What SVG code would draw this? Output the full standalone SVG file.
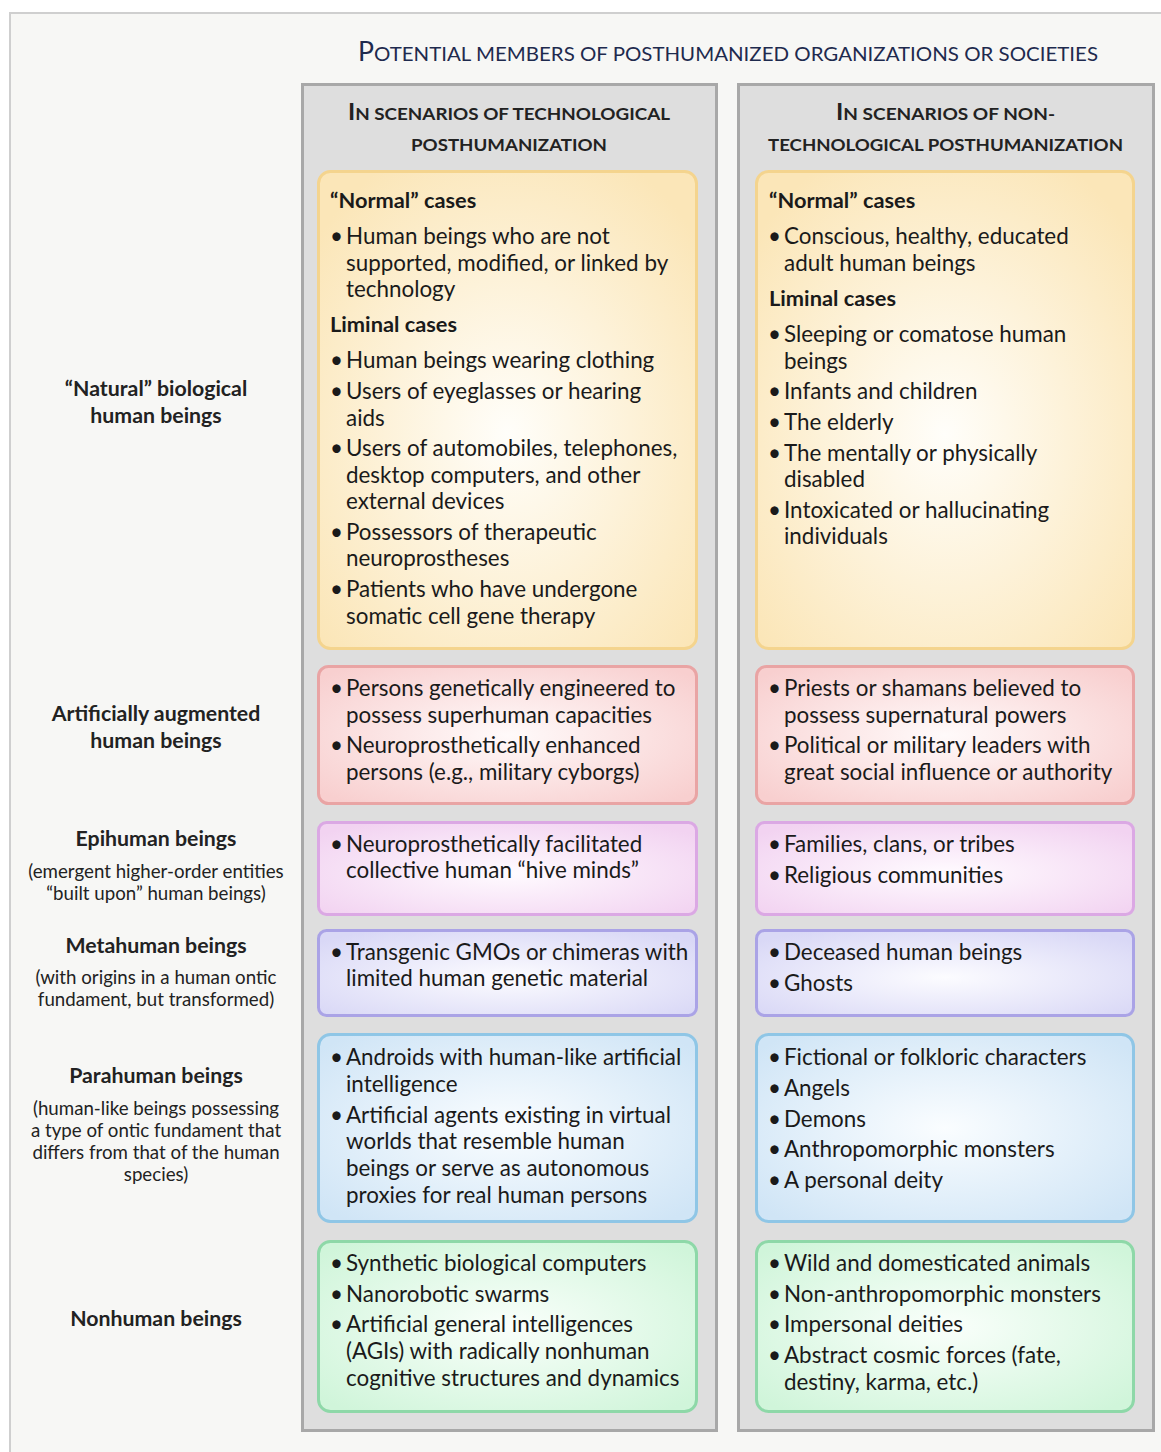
<svg xmlns="http://www.w3.org/2000/svg" width="1161" height="1452" viewBox="0 0 1161 1452">
<defs>
<radialGradient id="gY" cx="50%" cy="55%" r="65%"><stop offset="0" stop-color="#fffefa"/><stop offset="1" stop-color="#fbe6b8"/></radialGradient>
<radialGradient id="gR" cx="50%" cy="50%" r="65%"><stop offset="0" stop-color="#fffafa"/><stop offset="1" stop-color="#f8cfcf"/></radialGradient>
<radialGradient id="gP" cx="50%" cy="55%" r="65%"><stop offset="0" stop-color="#fffbff"/><stop offset="1" stop-color="#f2d3f1"/></radialGradient>
<radialGradient id="gL" cx="50%" cy="55%" r="65%"><stop offset="0" stop-color="#fcfcff"/><stop offset="1" stop-color="#d9d8f6"/></radialGradient>
<radialGradient id="gB" cx="50%" cy="50%" r="65%"><stop offset="0" stop-color="#fafdff"/><stop offset="1" stop-color="#d0e5f6"/></radialGradient>
<radialGradient id="gG" cx="50%" cy="50%" r="65%"><stop offset="0" stop-color="#fafffb"/><stop offset="1" stop-color="#d0f5da"/></radialGradient>
</defs>
<style>
.col{fill:#dedede;stroke:#a8a8a8;stroke-width:3}
.box{stroke-width:3}
.y{fill:url(#gY);stroke:#f4d48e}
.r{fill:url(#gR);stroke:#e9a4a4}
.p{fill:url(#gP);stroke:#dba8e4}
.l{fill:url(#gL);stroke:#aaa3e6}
.b{fill:url(#gB);stroke:#8fc6e6}
.g{fill:url(#gG);stroke:#8ed8a8}
text{font-family:Lato,"Liberation Sans",sans-serif}
.t{font-size:22.4px;fill:#1a1a1a}
.h{font-size:21.8px;font-weight:bold;fill:#1a1a1a}
.lab{font-size:21.3px;font-weight:bold;fill:#222;text-anchor:middle}
.sub{font-size:18.7px;fill:#222;text-anchor:middle}
.title{fill:#1e2a4e}
.ch{font-weight:bold;fill:#222}
</style>
<rect x="10" y="13" width="1160" height="1450" fill="#f7f7f5" stroke="#cfcfcf" stroke-width="2"/>
<text class="title" x="358" y="61" textLength="740" lengthAdjust="spacingAndGlyphs"><tspan font-size="26">P</tspan><tspan font-size="20">OTENTIAL MEMBERS OF POSTHUMANIZED ORGANIZATIONS OR SOCIETIES</tspan></text>

<g id="col-tech">
<rect class="col" x="302.5" y="84.5" width="414" height="1346"/>
<text class="ch" x="348" y="120" textLength="322" lengthAdjust="spacingAndGlyphs"><tspan font-size="22">I</tspan><tspan font-size="17">N SCENARIOS OF TECHNOLOGICAL</tspan></text>
<text class="ch" x="411" y="151" textLength="196" lengthAdjust="spacingAndGlyphs" font-size="17">POSTHUMANIZATION</text>
</g>
<g id="col-nontech">
<rect class="col" x="738.5" y="84.5" width="415" height="1346"/>
<text class="ch" x="836" y="120" textLength="219" lengthAdjust="spacingAndGlyphs"><tspan font-size="22">I</tspan><tspan font-size="17">N SCENARIOS OF NON-</tspan></text>
<text class="ch" x="768" y="151" textLength="355" lengthAdjust="spacingAndGlyphs" font-size="17">TECHNOLOGICAL POSTHUMANIZATION</text>
</g>

<g id="label-natural"><text class="lab"><tspan x="156" y="396">“Natural” biological</tspan><tspan x="156" y="423">human beings</tspan></text></g>
<g id="label-augmented"><text class="lab"><tspan x="156" y="721">Artificially augmented</tspan><tspan x="156" y="748">human beings</tspan></text></g>
<g id="label-epihuman"><text class="lab" x="156" y="846">Epihuman beings</text><text class="sub"><tspan x="156" y="878">(emergent higher-order entities</tspan><tspan x="156" y="900">“built upon” human beings)</tspan></text></g>
<g id="label-metahuman"><text class="lab" x="156" y="953">Metahuman beings</text><text class="sub"><tspan x="156" y="984">(with origins in a human ontic</tspan><tspan x="156" y="1006">fundament, but transformed)</tspan></text></g>
<g id="label-parahuman"><text class="lab" x="156" y="1083">Parahuman beings</text><text class="sub"><tspan x="156" y="1115">(human-like beings possessing</tspan><tspan x="156" y="1137">a type of ontic fundament that</tspan><tspan x="156" y="1159">differs from that of the human</tspan><tspan x="156" y="1181">species)</tspan></text></g>
<g id="label-nonhuman"><text class="lab" x="156" y="1326">Nonhuman beings</text></g>

<g id="tech-natural">
<rect class="box y" x="318.5" y="171.5" width="378" height="477" rx="12"/>
<text class="h" x="330" y="208">“Normal” cases</text>
<text class="t"><tspan x="330" y="244">•</tspan><tspan x="346" y="244">Human beings who are not</tspan><tspan x="346" y="271">supported, modified, or linked by</tspan><tspan x="346" y="297">technology</tspan></text>
<text class="h" x="330" y="332">Liminal cases</text>
<text class="t"><tspan x="330" y="368">•</tspan><tspan x="346" y="368">Human beings wearing clothing</tspan>
<tspan x="330" y="399">•</tspan><tspan x="346" y="399">Users of eyeglasses or hearing</tspan><tspan x="346" y="426">aids</tspan>
<tspan x="330" y="456">•</tspan><tspan x="346" y="456">Users of automobiles, telephones,</tspan><tspan x="346" y="483">desktop computers, and other</tspan><tspan x="346" y="509">external devices</tspan>
<tspan x="330" y="540">•</tspan><tspan x="346" y="540">Possessors of therapeutic</tspan><tspan x="346" y="566">neuroprostheses</tspan>
<tspan x="330" y="597">•</tspan><tspan x="346" y="597">Patients who have undergone</tspan><tspan x="346" y="624">somatic cell gene therapy</tspan></text>
</g>
<g id="nontech-natural">
<rect class="box y" x="756.5" y="171.5" width="377" height="477" rx="12"/>
<text class="h" x="769" y="208">“Normal” cases</text>
<text class="t"><tspan x="768" y="244">•</tspan><tspan x="784" y="244">Conscious, healthy, educated</tspan><tspan x="784" y="271">adult human beings</tspan></text>
<text class="h" x="769" y="306">Liminal cases</text>
<text class="t"><tspan x="768" y="342">•</tspan><tspan x="784" y="342">Sleeping or comatose human</tspan><tspan x="784" y="369">beings</tspan>
<tspan x="768" y="399">•</tspan><tspan x="784" y="399">Infants and children</tspan>
<tspan x="768" y="430">•</tspan><tspan x="784" y="430">The elderly</tspan>
<tspan x="768" y="461">•</tspan><tspan x="784" y="461">The mentally or physically</tspan><tspan x="784" y="487">disabled</tspan>
<tspan x="768" y="518">•</tspan><tspan x="784" y="518">Intoxicated or hallucinating</tspan><tspan x="784" y="544">individuals</tspan></text>
</g>

<g id="tech-augmented">
<rect class="box r" x="318.5" y="666.5" width="378" height="137" rx="10"/>
<text class="t"><tspan x="330" y="696">•</tspan><tspan x="346" y="696">Persons genetically engineered to</tspan><tspan x="346" y="723">possess superhuman capacities</tspan>
<tspan x="330" y="753">•</tspan><tspan x="346" y="753">Neuroprosthetically enhanced</tspan><tspan x="346" y="780">persons (e.g., military cyborgs)</tspan></text>
</g>
<g id="nontech-augmented">
<rect class="box r" x="756.5" y="666.5" width="377" height="137" rx="10"/>
<text class="t"><tspan x="768" y="696">•</tspan><tspan x="784" y="696">Priests or shamans believed to</tspan><tspan x="784" y="723">possess supernatural powers</tspan>
<tspan x="768" y="753">•</tspan><tspan x="784" y="753">Political or military leaders with</tspan><tspan x="784" y="780">great social influence or authority</tspan></text>
</g>

<g id="tech-epihuman">
<rect class="box p" x="318.5" y="822.5" width="378" height="92" rx="8"/>
<text class="t"><tspan x="330" y="852">•</tspan><tspan x="346" y="852">Neuroprosthetically facilitated</tspan><tspan x="346" y="878">collective human “hive minds”</tspan></text>
</g>
<g id="nontech-epihuman">
<rect class="box p" x="756.5" y="822.5" width="377" height="92" rx="8"/>
<text class="t"><tspan x="768" y="852">•</tspan><tspan x="784" y="852">Families, clans, or tribes</tspan>
<tspan x="768" y="883">•</tspan><tspan x="784" y="883">Religious communities</tspan></text>
</g>

<g id="tech-metahuman">
<rect class="box l" x="318.5" y="930.5" width="378" height="85" rx="8"/>
<text class="t"><tspan x="330" y="960">•</tspan><tspan x="346" y="960">Transgenic GMOs or chimeras with</tspan><tspan x="346" y="986">limited human genetic material</tspan></text>
</g>
<g id="nontech-metahuman">
<rect class="box l" x="756.5" y="930.5" width="377" height="85" rx="8"/>
<text class="t"><tspan x="768" y="960">•</tspan><tspan x="784" y="960">Deceased human beings</tspan>
<tspan x="768" y="991">•</tspan><tspan x="784" y="991">Ghosts</tspan></text>
</g>

<g id="tech-parahuman">
<rect class="box b" x="318.5" y="1034.5" width="378" height="187" rx="12"/>
<text class="t"><tspan x="330" y="1065">•</tspan><tspan x="346" y="1065">Androids with human-like artificial</tspan><tspan x="346" y="1092">intelligence</tspan>
<tspan x="330" y="1123">•</tspan><tspan x="346" y="1123">Artificial agents existing in virtual</tspan><tspan x="346" y="1149">worlds that resemble human</tspan><tspan x="346" y="1176">beings or serve as autonomous</tspan><tspan x="346" y="1203">proxies for real human persons</tspan></text>
</g>
<g id="nontech-parahuman">
<rect class="box b" x="756.5" y="1034.5" width="377" height="187" rx="12"/>
<text class="t"><tspan x="768" y="1065">•</tspan><tspan x="784" y="1065">Fictional or folkloric characters</tspan>
<tspan x="768" y="1096">•</tspan><tspan x="784" y="1096">Angels</tspan>
<tspan x="768" y="1127">•</tspan><tspan x="784" y="1127">Demons</tspan>
<tspan x="768" y="1157">•</tspan><tspan x="784" y="1157">Anthropomorphic monsters</tspan>
<tspan x="768" y="1188">•</tspan><tspan x="784" y="1188">A personal deity</tspan></text>
</g>

<g id="tech-nonhuman">
<rect class="box g" x="318.5" y="1241.5" width="378" height="170" rx="12"/>
<text class="t"><tspan x="330" y="1271">•</tspan><tspan x="346" y="1271">Synthetic biological computers</tspan>
<tspan x="330" y="1302">•</tspan><tspan x="346" y="1302">Nanorobotic swarms</tspan>
<tspan x="330" y="1332">•</tspan><tspan x="346" y="1332">Artificial general intelligences</tspan><tspan x="346" y="1359">(AGIs) with radically nonhuman</tspan><tspan x="346" y="1386">cognitive structures and dynamics</tspan></text>
</g>
<g id="nontech-nonhuman">
<rect class="box g" x="756.5" y="1241.5" width="377" height="170" rx="12"/>
<text class="t"><tspan x="768" y="1271">•</tspan><tspan x="784" y="1271">Wild and domesticated animals</tspan>
<tspan x="768" y="1302">•</tspan><tspan x="784" y="1302">Non-anthropomorphic monsters</tspan>
<tspan x="768" y="1332">•</tspan><tspan x="784" y="1332">Impersonal deities</tspan>
<tspan x="768" y="1363">•</tspan><tspan x="784" y="1363">Abstract cosmic forces (fate,</tspan><tspan x="784" y="1390">destiny, karma, etc.)</tspan></text>
</g>
<g id="connectors"/>
</svg>
